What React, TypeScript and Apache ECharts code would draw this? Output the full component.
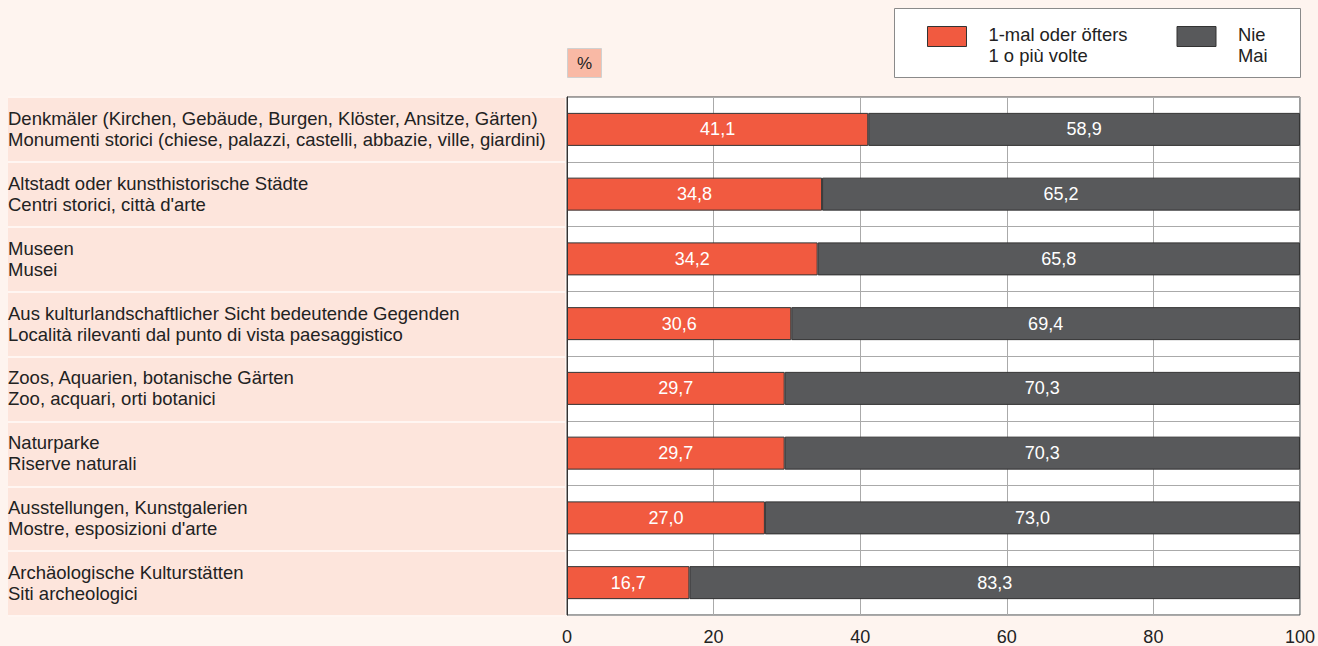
import React, { useEffect, useRef } from "react";
import * as echarts from "echarts";

const categories = [
  "Denkmäler (Kirchen, Gebäude, Burgen, Klöster, Ansitze, Gärten)\nMonumenti storici (chiese, palazzi, castelli, abbazie, ville, giardini)",
  "Altstadt oder kunsthistorische Städte\nCentri storici, città d'arte",
  "Museen\nMusei",
  "Aus kulturlandschaftlicher Sicht bedeutende Gegenden\nLocalità rilevanti dal punto di vista paesaggistico",
  "Zoos, Aquarien, botanische Gärten\nZoo, acquari, orti botanici",
  "Naturparke\nRiserve naturali",
  "Ausstellungen, Kunstgalerien\nMostre, esposizioni d'arte",
  "Archäologische Kulturstätten\nSiti archeologici",
];
const seriesNames = ["1-mal oder öfters\n1 o più volte", "Nie\nMai"];
const onceOrMore = [41.1, 34.8, 34.2, 30.6, 29.7, 29.7, 27.0, 16.7];
const never = [58.9, 65.2, 65.8, 69.4, 70.3, 70.3, 73.0, 83.3];
const xTicks = { min: 0, max: 100, interval: 20 };
const unitLabel = "%";

const RED = "#f15a40";
const DARK = "#58595b";
const FONT = "Liberation Sans";
// legend icon: 39x20 box at the top of a 39x37 item (trailing move-to keeps the height)
const LEGEND_ICON = "path://M0 0H39V20H0Z M39 37";

export default function App() {
  const ref = useRef<HTMLDivElement>(null);
  useEffect(() => {
    const chart = echarts.init(ref.current!, null, { renderer: "svg" });
    const fmt = (p: any) => Number(p.value).toFixed(1).replace(".", ",");
    chart.setOption({
      animation: false,
      backgroundColor: "#fef4ef",
      textStyle: { fontFamily: FONT },
      title: {
        text: unitLabel,
        left: 567,
        top: 48,
        backgroundColor: "#f9b9a5",
        borderColor: "#d0d0d0",
        borderWidth: 1,
        padding: [6, 10, 6, 10],
        textStyle: { fontSize: 17, lineHeight: 18, fontWeight: "normal", color: "#222", fontFamily: FONT },
      },
      graphic: [
        {
          type: "rect",
          z: -1,
          shape: { x: 894.5, y: 8.5, width: 406, height: 69 },
          style: { fill: "#ffffff", stroke: "#8a8a8a", lineWidth: 1 },
        },
      ],
      legend: {
        left: 927,
        top: 24,
        orient: "horizontal",
        padding: 0,
        itemWidth: 39,
        itemHeight: 37,
        itemGap: 8,
        icon: LEGEND_ICON,
        selectedMode: false,
        textStyle: { fontSize: 18.4, lineHeight: 21, color: "#222", fontFamily: FONT, padding: [0, 0, 0, 17] },
        data: [
          { name: seriesNames[0], itemStyle: { borderColor: "#333", borderWidth: 1 }, textStyle: { width: 180 } },
          { name: seriesNames[1], itemStyle: { borderColor: "#333", borderWidth: 1 }, textStyle: { width: 40 } },
        ],
      },
      grid: [
        { left: 567, right: 17, top: 97, bottom: 30, show: true, backgroundColor: "#ffffff", borderColor: "#444", borderWidth: 1, containLabel: false },
        { left: 8, width: 557, top: 97, bottom: 30, show: false, containLabel: false },
      ],
      xAxis: [
        {
          type: "value",
          gridIndex: 0,
          min: xTicks.min,
          max: xTicks.max,
          interval: xTicks.interval,
          axisLine: { show: false },
          axisTick: { show: false },
          axisLabel: { fontSize: 18, color: "#222", margin: 13, fontFamily: FONT },
          splitLine: { show: true, lineStyle: { color: "#aaaaaa", width: 1 } },
        },
        { type: "value", gridIndex: 1, show: false, min: 0, max: 1 },
      ],
      yAxis: [
        {
          type: "category",
          gridIndex: 0,
          inverse: true,
          data: categories,
          axisLine: { show: true, lineStyle: { color: "#333" } },
          axisTick: { show: false },
          splitLine: { show: true, lineStyle: { color: "#aaaaaa", width: 1 } },
          axisLabel: {
            align: "left",
            margin: 559,
            fontSize: 18.5,
            lineHeight: 21,
            color: "#222",
            fontFamily: FONT,
          },
        },
        {
          type: "category",
          gridIndex: 1,
          inverse: true,
          data: categories,
          axisLine: { show: false },
          axisTick: { show: false },
          axisLabel: { show: false },
          splitArea: { show: true, areaStyle: { color: ["#fde5dc"] } },
          splitLine: { show: true, lineStyle: { color: "#fff6f2", width: 2 } },
        },
      ],
      series: [
        {
          name: seriesNames[0],
          type: "bar",
          stack: "total",
          xAxisIndex: 0,
          yAxisIndex: 0,
          barWidth: 33,
          data: onceOrMore,
          itemStyle: { color: RED, borderColor: "#333", borderWidth: 1 },
          label: { show: true, position: "inside", color: "#fff", fontSize: 18, fontFamily: FONT, formatter: fmt },
        },
        {
          name: seriesNames[1],
          type: "bar",
          stack: "total",
          xAxisIndex: 0,
          yAxisIndex: 0,
          barWidth: 33,
          data: never,
          itemStyle: { color: DARK, borderColor: "#333", borderWidth: 1 },
          label: { show: true, position: "inside", color: "#fff", fontSize: 18, fontFamily: FONT, formatter: fmt },
        },
      ],
    });
    return () => chart.dispose();
  }, []);
  return <div ref={ref} style={{ position: "absolute", left: 0, top: 0, width: 1318, height: 646 }} />;
}
